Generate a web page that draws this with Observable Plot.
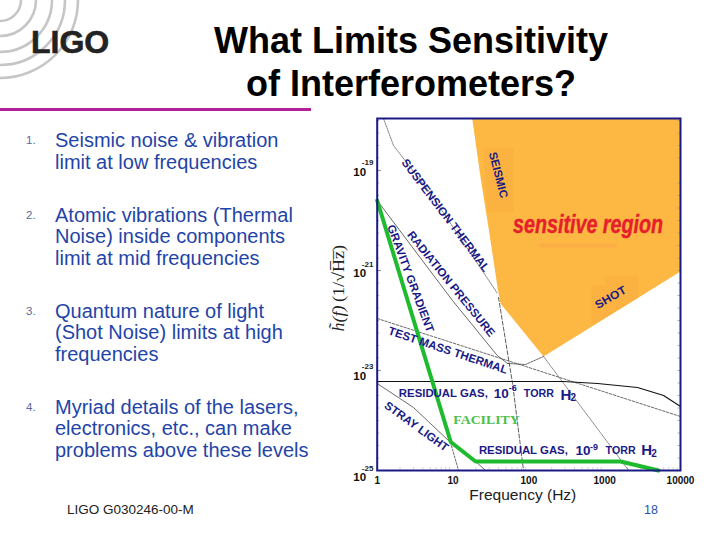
<!DOCTYPE html>
<html><head><meta charset="utf-8">
<script src="https://cdn.jsdelivr.net/npm/d3@7"></script>
<script src="https://cdn.jsdelivr.net/npm/@observablehq/plot@0.6"></script>
<style>
html,body{margin:0;padding:0;background:#fff;width:720px;height:540px;overflow:hidden}
body{position:relative;font-family:"Liberation Sans",Arial,sans-serif}
#chart{position:absolute;left:0;top:0}
.t{position:absolute;white-space:nowrap;line-height:1;transform:translateY(-50%)}
.title{font-weight:bold;font-size:36px;color:#000;left:411px;transform:translate(-50%,-50%)}
.li{font-size:20px;color:#1f45a8;left:55px}
.n{font-size:11.5px;color:#5a6a9a;left:26px}
#rule{position:absolute;left:0;top:108px;width:311px;height:2.5px;background:#b3209c}
#logo{position:absolute;left:0;top:0}
</style></head><body>
<svg id="logo" width="130" height="90"><g fill="none" stroke="#c6c6c6" stroke-width="2.6">
<circle cx="0" cy="0" r="78"/><circle cx="0" cy="0" r="65"/><circle cx="0" cy="0" r="52"/><circle cx="0" cy="0" r="36"/><circle cx="0" cy="0" r="21"/></g></svg>
<div class="t" style="left:31px;top:42px;font-size:32px;font-weight:bold;color:#222;-webkit-text-stroke:0.6px #222">LIGO</div>
<div class="t title" style="top:41px">What Limits Sensitivity</div>
<div class="t title" style="top:84px">of Interferometers?</div>
<div id="rule"></div>
<div id="text"></div>
<div id="chart"></div>
<script>
// slide text
const bulletNumbers = [["1.",141],["2.",216],["3.",312],["4.",408]];
const bulletLines = [
 ["Seismic noise & vibration",140],["limit at low frequencies",162],
 ["Atomic vibrations (Thermal",215],["Noise) inside components",236],["limit at mid frequencies",258],
 ["Quantum nature of light",311],["(Shot Noise) limits at high",332],["frequencies",354],
 ["Myriad details of the lasers,",407],["electronics, etc., can make",428],["problems above these levels",450]];
const footerId = "LIGO G030246-00-M", pageNumber = "18";

// curves: log10(frequency), log10(strain)
const facilityF=[0,0.97,1.297,3.21,3.71], facilityH=[-19.6,-24.43,-24.82,-24.82,-25];
const suspensionF=[0.083,0.215,0.703,1.587], suspensionH=[-17.96,-18.5,-19.46,-21.46];
const radiationF=[0,0.993,1.583,1.719], radiationH=[-19.6,-21.6,-22.7,-22.86];
const bumpF=[1.719,1.956,2.194], bumpH=[-22.86,-22.88,-22.72];
const shotTailF=[2.194,3.316], shotTailH=[-22.72,-25];
const testMassF=[0,4], testMassH=[-21.96,-23.92];
const gasF=[0,2.458,2.906,3.434,3.777,4], gasH=[-23.22,-23.22,-23.26,-23.34,-23.5,-23.72];
const strayF=[0,0.479,0.967], strayH=[-23.26,-23.74,-24.44];
const strayTailF=[0.967,1.073], strayTailH=[-24.44,-25];
const shortF=[1.297,1.429], shortH=[-24.82,-25];
const seismicF=[1.6,1.785,1.93], seismicH=[-21.54,-23.26,-25];
const regionF=[1.253,4,4,2.194,1.627,1.587,1.468,1.363], regionH=[-17.96,-17.96,-21.02,-22.72,-21.66,-21.34,-20.14,-19.14];
const patchSeismicF=[1.402,1.798,1.798,1.45], patchSeismicH=[-18.56,-18.56,-19.82,-19.82];
const patchShotF=[2.827,3.0,3.0,3.447,3.447,2.88,2.827], patchShotH=[-21.3,-21.3,-21.12,-21.12,-21.54,-22.06,-22.06];
const patchBarF=[2.143,3.158,3.158,2.143], patchBarH=[-20.46,-20.46,-20.54,-20.54];

// axis values
const xTicks=[1,10,100,1000,10000];
const yTickExp=[-19,-21,-23,-25];
const yTickNames=["-19","-21","-23","-25"];
const yBaseAt=[-19.04,-21.06,-23.12,-25.14];
const yExpAt=[-18.84,-20.88,-22.92,-24.96];
const yMinorExp=[-18.5,-18,-19.5,-20,-20.25,-20.5,-20.75,-21,-21.25,-21.5,-21.75,-22,-22.25,-22.5,-22.75,-23,-23.25,-23.5,-23.75,-24,-24.25,-24.5,-24.75,-19.25,-19.75,-18.25,-18.75];
const xMinor=[2,3,4,5,6,7,8,9,20,30,40,50,60,70,80,90,200,300,400,500,600,700,800,900,2000,3000,4000,5000,6000,7000,8000,9000];

// labels: text, logF, logH, rotation
const diagonal=[
 ["SUSPENSION THERMAL",0.901,-19.9,53],["SEISMIC",1.596,-19.09,75.7],["SHOT",3.078,-21.54,-30],
 ["GRAVITY GRADIENT",0.439,-21.16,69.5],["RADIATION PRESSURE",0.974,-21.27,51],
 ["TEST MASS THERMAL",0.934,-22.6,18.6],["STRAY LIGHT",0.518,-24.12,36]];
const gasLabels=[
 ["RESIDUAL GAS,",0.285,-23.46,11.5],["10",1.538,-23.46,13.5],["-6",1.736,-23.36,9],["TORR",1.934,-23.46,11.5],["H",2.418,-23.5,15],["2",2.55,-23.54,10],
 ["RESIDUAL GAS,",1.341,-24.6,11.5],["10",2.616,-24.6,13.5],["-9",2.805,-24.53,9],["TORR",3.012,-24.6,11.5],["H",3.483,-24.6,15],["2",3.615,-24.66,10]];
const labelLengths={"SUSPENSION THERMAL":138,"SEISMIC":47,"SHOT":34,"GRAVITY GRADIENT":114,"RADIATION PRESSURE":132,"TEST MASS THERMAL":125,"STRAY LIGHT":76,"RESIDUAL GAS,":89,"TORR":30,"sensitive region":150,"FACILITY":66.5,"Frequency (Hz)":107,"(1/\u221AH\u0305z\u0305)":57,"h\u0303(f)":26};

const pow=e=>10**e;
const zip=(f,h)=>f.map((v,i)=>({x:pow(v),y:pow(h[i])}));
const thin=(f,h,o={})=>Plot.line(zip(f,h),{x:"x",y:"y",stroke:"#444",strokeWidth:0.8,...o});
const poly=(f,h,fill)=>Plot.line(zip(f,h).concat(zip(f,h).slice(0,1)),{x:"x",y:"y",fill,stroke:"none"});
const sans="Liberation Sans", navy="#1a1a86";

const chart=Plot.plot({
 width:720,height:540,marginLeft:376.7,marginRight:40,marginTop:118,marginBottom:70,
 style:{background:"transparent",fontFamily:sans},
 x:{type:"log",domain:[1,10000],axis:null},
 y:{type:"log",domain:[1e-25,pow(-17.96)],axis:null},
 marks:[
  poly(regionF,regionH,"#fdb843"),
  poly(patchSeismicF,patchSeismicH,"#fbb241"),
  poly(patchShotF,patchShotH,"#fbb241"),
  poly(patchBarF,patchBarH,"#fbae45"),
  Plot.ruleY(yMinorExp,{y:pow,x1:1,x2:1.08,stroke:"#999",strokeWidth:0.7}),
  Plot.ruleY(yMinorExp,{y:pow,x1:9250,x2:10000,stroke:"#999",strokeWidth:0.7}),
  Plot.ruleY(yTickExp,{y:pow,x1:1,x2:1.14,stroke:"#777",strokeWidth:0.8}),
  Plot.ruleX(xMinor,{x:d=>d,y1:1e-25,y2:pow(-24.94),stroke:"#bbb",strokeWidth:0.6}),
  thin(suspensionF,suspensionH,{strokeDasharray:"1.5,1",stroke:"#666"}),
  thin(radiationF,radiationH),
  thin(bumpF,bumpH,{strokeDasharray:"2,1"}),
  thin(shotTailF,shotTailH,{stroke:"#777"}),
  thin(testMassF,testMassH,{strokeDasharray:"2.5,1.5"}),
  thin(gasF,gasH,{stroke:"#111",strokeWidth:1.1}),
  thin(strayF,strayH),
  thin(strayTailF,strayTailH,{strokeDasharray:"2,1.5"}),
  thin(shortF,shortH),
  thin(seismicF,seismicH,{strokeDasharray:"4,2",stroke:"#333"}),
  Plot.line(zip(facilityF,facilityH),{x:"x",y:"y",stroke:"#1fbb2e",strokeWidth:4,strokeLinejoin:"miter"}),
  Plot.frame({stroke:navy,strokeWidth:2}),
  Plot.text(diagonal,{x:d=>pow(d[1]),y:d=>pow(d[2]),text:d=>d[0],rotate:d=>d[3],fontSize:11.5,fontWeight:"bold",fill:navy,fontFamily:sans}),
  Plot.text(gasLabels,{x:d=>pow(d[1]),y:d=>pow(d[2]),text:d=>d[0],fontSize:d=>d[3],textAnchor:"start",fontWeight:"bold",fill:navy,fontFamily:sans}),
  Plot.text(["FACILITY"],{x:pow(1.003),y:pow(-23.98),textAnchor:"start",fontSize:13.5,fontWeight:"bold",fill:"#4cc04c",fontFamily:"Liberation Serif"}),
  Plot.text(["sensitive region"],{x:pow(2.781),y:pow(-20.08),fontSize:25,fontWeight:"bold",fontStyle:"italic",fill:"#e5202c",stroke:"#e5202c",strokeWidth:0.4,fontFamily:sans}),
  Plot.axisX({ticks:xTicks,tickSize:0,tickPadding:6,tickFormat:d=>String(d),fontSize:10,fontWeight:"bold",fill:"#111",label:null}),
  Plot.text(["Frequency (Hz)"],{x:pow(1.92),y:pow(-25.5),fontSize:15.5,fill:"#222",fontFamily:sans}),
  Plot.text(yBaseAt,{x:pow(-0.23),y:pow,text:()=>"10",fontSize:11.5,fontWeight:"bold",fill:"#111",textAnchor:"middle",fontFamily:sans}),
  Plot.text(yExpAt,{x:pow(-0.127),y:pow,text:(d,i)=>yTickNames[i],fontSize:8,fontWeight:"bold",fill:"#222",textAnchor:"middle",fontFamily:sans}),
  Plot.text(["(1/\u221AH\u0305z\u0305)"],{x:pow(-0.51),y:pow(-21.06),rotate:-90,fontSize:16,fill:"#222",fontFamily:"Liberation Serif"}),
  Plot.text(["h\u0303(f)"],{x:pow(-0.51),y:pow(-21.96),rotate:-90,fontSize:16,fontStyle:"italic",fill:"#222",fontFamily:"Liberation Serif"})
 ]
});
chart.querySelectorAll("text").forEach(t=>{
  const n=labelLengths[t.textContent];
  if(n){t.setAttribute("textLength",n);t.setAttribute("lengthAdjust","spacingAndGlyphs");}
});
document.getElementById("chart").append(chart);

const host=document.getElementById("text");
const add=(cls,txt,y,style="")=>{const d=document.createElement("div");d.className="t "+cls;d.textContent=txt;d.style.cssText="top:"+y+"px;"+style;host.append(d);};
bulletNumbers.forEach(([t,y])=>add("n",t,y));
bulletLines.forEach(([t,y])=>add("li",t,y));
add("",footerId,510,"left:67px;font-size:13.5px;color:#222");
add("",pageNumber,510,"left:644px;font-size:12.5px;color:#2a50b0");
</script></body></html>
